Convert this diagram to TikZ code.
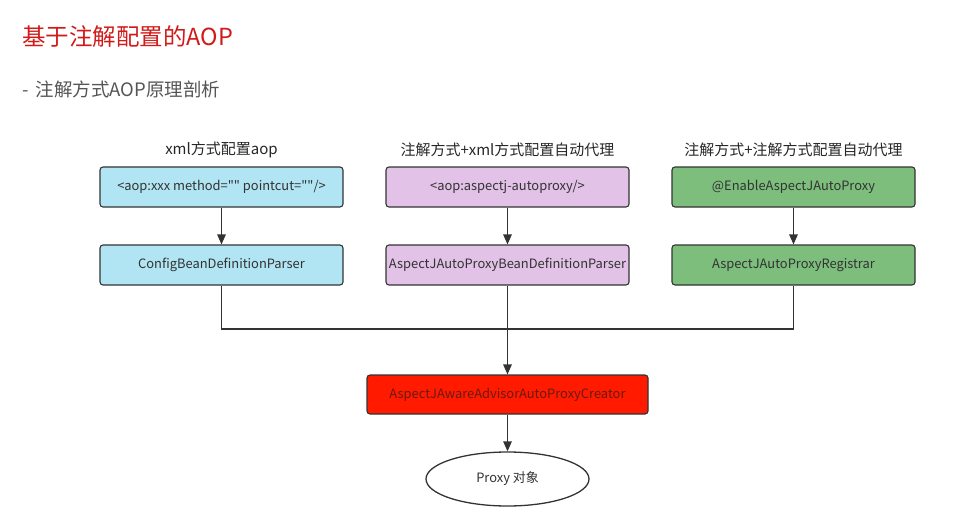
\documentclass[tikz,border=0pt]{standalone}
\usepackage{fontspec}
\newfontfamily\cjk{Noto Sans CJK SC}
\setmainfont{Noto Sans CJK SC}
\usetikzlibrary{arrows.meta,shapes.geometric}
\definecolor{titlered}{HTML}{D11A1A}
\definecolor{subgray}{HTML}{555555}
\definecolor{linegray}{HTML}{333333}
\definecolor{bluefill}{HTML}{B1E5F3}
\definecolor{purplefill}{HTML}{E2C2E7}
\definecolor{greenfill}{HTML}{7DBE7D}
\definecolor{redfill}{HTML}{FF1A00}
\definecolor{redtext}{HTML}{6A1A10}
\tikzset{
  box/.style={draw=linegray, line width=1.1pt, rounded corners=3pt, minimum width=243pt, minimum height=40pt, inner sep=0pt, font=\cjk\fontsize{12.9}{15}\selectfont, text=black!80},
  colhead/.style={font=\cjk\fontsize{15}{17}\selectfont, text=black!85},
  conn/.style={draw=linegray, line width=1.3pt},
  arr/.style={conn, -{Triangle[length=10pt,width=8.5pt]}}
}
\begin{document}
\begin{tikzpicture}[x=1pt,y=-1pt]
\useasboundingbox (0,0) rectangle (955,524);
\node[anchor=west, text=titlered, font=\cjk\fontsize{23.5}{27}\selectfont, inner sep=0pt] (title) at (22,37) {基于注解配置的AOP};
\node[anchor=west, text=subgray, font=\cjk\fontsize{18.5}{21}\selectfont, inner sep=0pt] (sub) at (22,89) {-\, 注解方式AOP原理剖析};

\node[colhead] (h1) at (221.5,150) {xml方式配置aop};
\node[colhead] (h2) at (507.5,150) {注解方式+xml方式配置自动代理};
\node[colhead] (h3) at (793.5,150) {注解方式+注解方式配置自动代理};

\node[box, fill=bluefill] (a1) at (221.5,187) {<aop:xxx method="" pointcut=""/>};
\node[box, fill=bluefill] (a2) at (221.5,265) {ConfigBeanDefinitionParser};
\node[box, fill=purplefill] (b1) at (507.5,187) {<aop:aspectj-autoproxy/>};
\node[box, fill=purplefill] (b2) at (507.5,265) {AspectJAutoProxyBeanDefinitionParser};
\node[box, fill=greenfill] (c1) at (793.5,187) {@EnableAspectJAutoProxy};
\node[box, fill=greenfill] (c2) at (793.5,265) {AspectJAutoProxyRegistrar};

\node[box, fill=redfill, minimum width=281pt, minimum height=39pt, text=redtext] (r) at (507.5,394.5) {AspectJAwareAdvisorAutoProxyCreator};
\node[ellipse, draw=linegray, line width=1.3pt, fill=white, minimum width=163pt, minimum height=54pt, inner sep=0pt, font=\cjk\fontsize{12.9}{15}\selectfont, text=black!80] (p) at (507.5,479) {Proxy 对象};

\coordinate (j1) at (221.5,329);
\coordinate (j2) at (507.5,329);
\coordinate (j3) at (793.5,329);

\draw[arr] (a1) -- (a2);
\draw[arr] (b1) -- (b2);
\draw[arr] (c1) -- (c2);
\draw[conn] (a2.south) -- (j1) -- (j3) -- (c2.south);
\draw[conn] (b2.south) -- (j2);
\draw[arr] (j2) -- (r.north);
\draw[arr] (r) -- (p);
\end{tikzpicture}
\end{document}
